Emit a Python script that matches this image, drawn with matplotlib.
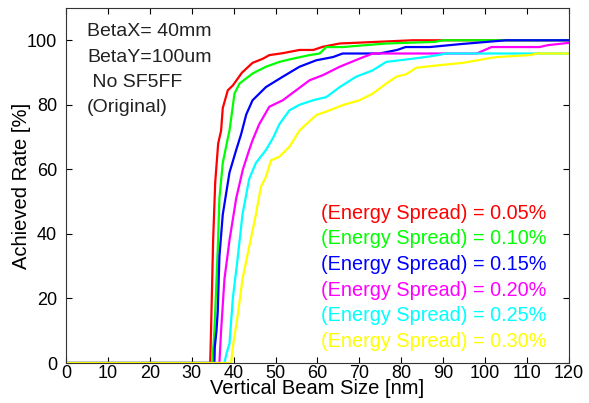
import matplotlib
matplotlib.use("Agg")
import matplotlib.pyplot as plt

plt.rcParams['font.family'] = ['Liberation Sans', 'DejaVu Sans']

# Data
red_x = [0, 34.4, 34.6, 35.1, 35.6, 36.3, 37.0, 37.4, 38.6, 39.8, 42.0, 44.5, 47.0, 48.5, 51.7, 55.7, 59.0, 61.3, 65.3, 82.7, 120]
red_y = [0, 0, 10, 38, 56, 68, 72, 79, 84.5, 86, 90, 93, 94.3, 95.4, 96, 97, 97, 98, 99, 100, 100]

green_x = [0, 34.9, 35.4, 36.2, 36.6, 37.4, 38.5, 39.0, 40.2, 41.4, 44.5, 47.7, 50.9, 54.1, 58.1, 60.5, 62.1, 66.0, 71.6, 76.4, 88, 90, 120]
green_y = [0, 0, 10, 35, 51, 62, 69, 72, 83.5, 86.6, 89.7, 91.8, 93.3, 94.3, 95.4, 95.9, 97.9, 97.9, 98.5, 99, 99.5, 100, 100]

blue_x = [0, 35.4, 35.5, 35.9, 36.2, 36.6, 37.4, 39.0, 40.6, 41.8, 43.0, 44.5, 47.7, 51.7, 55.7, 59.7, 63.7, 66.0, 74.8, 79.0, 81.0, 86.8, 94.0, 105, 120]
blue_y = [0, 0, 5, 10, 16, 33, 46, 59, 66, 71, 77, 81.4, 85.5, 88.7, 91.8, 93.8, 94.8, 95.9, 95.9, 97, 97.9, 97.9, 98.8, 100, 100]

magenta_x = [0, 36.6, 37.0, 37.8, 39.0, 40.6, 42.2, 43.7, 44.5, 46.1, 48.5, 51.7, 54.9, 58.1, 61.3, 65.3, 70.0, 73.2, 98.0, 101.5, 113, 115, 120]
magenta_y = [0, 0, 10, 26, 38, 51, 60, 66, 69, 74, 79.4, 81.4, 84.5, 87.6, 89.2, 91.8, 94.3, 95.9, 95.9, 97.9, 97.9, 98.5, 99.2]

cyan_x = [0, 37.8, 38.3, 39.0, 39.8, 41.0, 42.1, 43.7, 45.3, 47.7, 49.5, 50.9, 53.3, 55.7, 58.9, 62.1, 65.3, 69.2, 73.2, 76.4, 82.8, 86.8, 90.8, 120]
cyan_y = [0, 0, 3, 6, 20, 33, 46, 57, 62, 66, 70, 74, 78.3, 80, 81.4, 82.4, 85.5, 88.7, 90.7, 93.3, 94.3, 95, 95.9, 95.9]

yellow_x = [0, 39.4, 39.8, 41.0, 42.1, 43.7, 45.3, 46.5, 47.7, 48.9, 50.9, 53.3, 55.7, 57.3, 59.7, 62.9, 66.0, 70.0, 73.2, 76.4, 78.8, 81.2, 83.6, 89.2, 94.7, 100.3, 102.7, 110.7, 112.3, 120]
yellow_y = [0, 0, 5, 15, 26, 36, 46, 54.6, 57.7, 62.8, 63.9, 67, 72, 74, 76.8, 78.3, 79.9, 81.4, 83.5, 86.6, 88.7, 89.5, 91.5, 92.3, 93, 94.3, 94.8, 95.4, 95.9, 95.9]

series = [
    (red_x, red_y, '#ff0000', '(Energy Spread) = 0.05%'),
    (green_x, green_y, '#00ff00', '(Energy Spread) = 0.10%'),
    (blue_x, blue_y, '#0000ff', '(Energy Spread) = 0.15%'),
    (magenta_x, magenta_y, '#ff00ff', '(Energy Spread) = 0.20%'),
    (cyan_x, cyan_y, '#00ffff', '(Energy Spread) = 0.25%'),
    (yellow_x, yellow_y, '#ffff00', '(Energy Spread) = 0.30%'),
]

info_lines = ['BetaX= 40mm', 'BetaY=100um', ' No SF5FF', '(Original)']

fig = plt.figure(figsize=(5.89, 4.03), dpi=100)
ax = fig.add_axes([66/589, 1-363/403, (569-66)/589, (363-8)/403])

for xs, ys, c, lab in series:
    ax.plot(xs, ys, color=c, lw=1.6)

ax.set_xlim(0, 120)
ax.set_ylim(0, 110)
ax.set_xticks(range(0, 121, 10))
ax.set_yticks(range(0, 101, 20))
ax.tick_params(direction='in', top=True, right=True, labelsize=13, length=4)
ax.tick_params(axis='x', pad=1.5)
ax.tick_params(axis='y', pad=6.5)
ax.set_xlabel('Vertical Beam Size [nm]', fontsize=14.5, labelpad=-2)
ax.set_ylabel('Achieved Rate [%]', fontsize=14.5, labelpad=-3)
for s in ax.spines.values():
    s.set_color('#333333')

for i, t in enumerate(info_lines):
    ax.text(0.042, 0.933 - i*0.0713, t, transform=ax.transAxes, fontsize=14,
            va='center', ha='left', color='#222222')

for i, (xs, ys, c, lab) in enumerate(series):
    ax.text(0.956, 0.4225 - i*0.0724, lab, transform=ax.transAxes, fontsize=14.3,
            va='center', ha='right', color=c)

fig.savefig('out.png', dpi=100)
